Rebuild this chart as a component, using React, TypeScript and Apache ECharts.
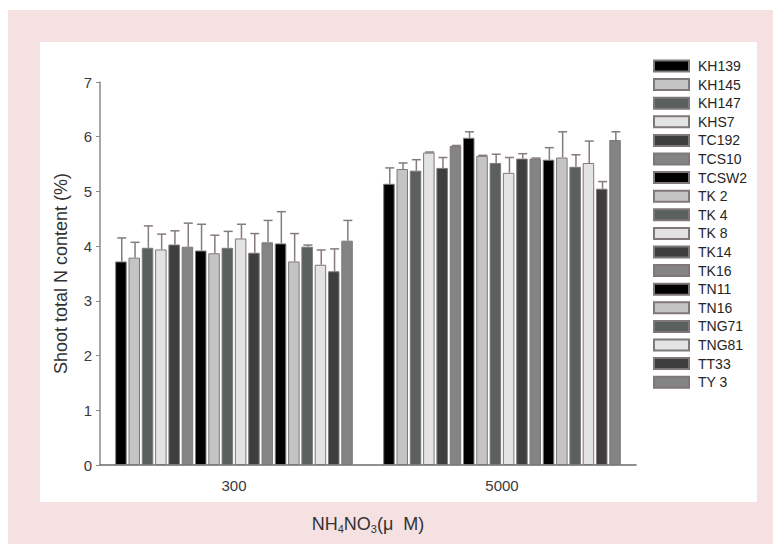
import React, { useEffect, useRef } from "react";
import * as echarts from "echarts";

const categories = ["300", "5000"];
const genotypes = ["KH139", "KH145", "KH147", "KHS7", "TC192", "TCS10", "TCSW2", "TK 2", "TK 4", "TK 8", "TK14", "TK16", "TN11", "TN16", "TNG71", "TNG81", "TT33", "TY 3"];
const values300 = [3.72, 3.79, 3.97, 3.94, 4.03, 3.99, 3.92, 3.87, 3.97, 4.14, 3.88, 4.07, 4.05, 3.72, 3.99, 3.66, 3.54, 4.10];
const errors300 = [0.43, 0.28, 0.40, 0.28, 0.25, 0.43, 0.48, 0.33, 0.30, 0.26, 0.35, 0.40, 0.58, 0.51, 0.03, 0.27, 0.41, 0.37];
const values5000 = [5.14, 5.41, 5.38, 5.71, 5.43, 5.83, 5.98, 5.65, 5.52, 5.34, 5.60, 5.60, 5.58, 5.62, 5.45, 5.52, 5.05, 5.94];
const errors5000 = [0.29, 0.11, 0.20, 0.01, 0.19, 0.01, 0.11, 0.01, 0.16, 0.28, 0.09, 0.01, 0.22, 0.47, 0.22, 0.40, 0.13, 0.15];
const yTicks = [0, 1, 2, 3, 4, 5, 6, 7];
const shades = ["#000000", "#c4c4c4", "#5a5f5f", "#e3e3e3", "#3e3e3e", "#848484"];

const FONT = "'Liberation Sans', Arial, Helvetica, sans-serif";
const BAR_W = 11.5;
const BAR_GAP = 1.8;
const PITCH = BAR_W + BAR_GAP;
const BORDER = "#7f7878";

export default function App() {
  const ref = useRef<HTMLDivElement>(null);
  useEffect(() => {
    if (!ref.current) return;
    const chart = echarts.init(ref.current, null, { renderer: "svg" });
    const n = genotypes.length;
    const barSeries = genotypes.map((g, i) => ({
      name: g,
      type: "bar",
      data: [values300[i], values5000[i]],
      barWidth: BAR_W,
      barGap: ((BAR_GAP / BAR_W) * 100).toFixed(2) + "%",
      itemStyle: { color: shades[i % shades.length], borderColor: BORDER, borderWidth: 1 },
      z: 2,
    }));
    const errData: number[][] = [];
    genotypes.forEach((_, i) => {
      errData.push([0, i, values300[i], errors300[i]]);
      errData.push([1, i, values5000[i], errors5000[i]]);
    });
    const errSeries = {
      type: "custom",
      name: "err",
      data: errData,
      encode: { x: 0, y: 2 },
      z: 3,
      renderItem: (params: any, api: any) => {
        const cat = api.value(0);
        const s = api.value(1);
        const v = api.value(2);
        const e = api.value(3);
        const p0 = api.coord([cat, v]);
        const p1 = api.coord([cat, v + e]);
        const x = p0[0] + (s - (n - 1) / 2) * PITCH + 0.8;
        const style = { stroke: "#857b7b", lineWidth: 1.5 };
        return {
          type: "group",
          children: [
            { type: "line", shape: { x1: x, y1: p0[1], x2: x, y2: p1[1] }, style },
            { type: "line", shape: { x1: x - 4.5, y1: p1[1], x2: x + 4.5, y2: p1[1] }, style },
          ],
        };
      },
    };
    chart.setOption({
      animation: false,
      textStyle: { fontFamily: FONT },
      graphic: [
        { type: "rect", shape: { x: 8, y: 10, width: 765, height: 534 }, style: { fill: "#f5e0e2" }, z: -10 },
        { type: "rect", shape: { x: 40, y: 42, width: 717, height: 460 }, style: { fill: "#ffffff" }, z: -9 },
      ],
      grid: { left: 100, right: 137, top: 82, bottom: 79 },
      legend: {
        data: genotypes,
        orient: "vertical",
        left: 648,
        top: 54,
        itemWidth: 35,
        itemHeight: 11,
        itemGap: 4.6,
        icon: "rect",
        textStyle: { fontSize: 14, color: "#262626", fontFamily: FONT, padding: [0, 0, 0, 4] },
      },
      xAxis: {
        type: "category",
        data: categories,
        name: "NH{s|4}NO{s|3}(μ  M)",
        nameLocation: "middle",
        nameGap: 48,
        nameTextStyle: {
          fontSize: 18,
          color: "#333",
          fontFamily: FONT,
          rich: { s: { fontSize: 11, verticalAlign: "bottom", padding: [10, 0, 0, 0], color: "#333" } },
        },
        axisLine: { lineStyle: { color: "#6a6a6a", width: 1.5 } },
        axisTick: { alignWithLabel: true, length: 4, lineStyle: { color: "#6a6a6a" } },
        axisLabel: { fontSize: 15, color: "#3a3a3a", margin: 13 },
      },
      yAxis: {
        type: "value",
        min: yTicks[0],
        max: yTicks[yTicks.length - 1],
        interval: 1,
        name: "Shoot total N content (%)",
        nameLocation: "middle",
        nameGap: 30,
        nameTextStyle: { fontSize: 18, color: "#333", fontFamily: FONT },
        axisLine: { show: true, lineStyle: { color: "#8a8a8a", width: 1.5 } },
        axisTick: { show: true, length: 4, lineStyle: { color: "#8a8a8a" } },
        axisLabel: { fontSize: 15, color: "#3a3a3a", margin: 8 },
        splitLine: { show: false },
      },
      series: [...barSeries, errSeries],
    });
    return () => chart.dispose();
  }, []);
  return (
    <div
      ref={ref}
      style={{ position: "absolute", left: 0, top: 0, width: 773, height: 544, background: "#ffffff" }}
    />
  );
}
